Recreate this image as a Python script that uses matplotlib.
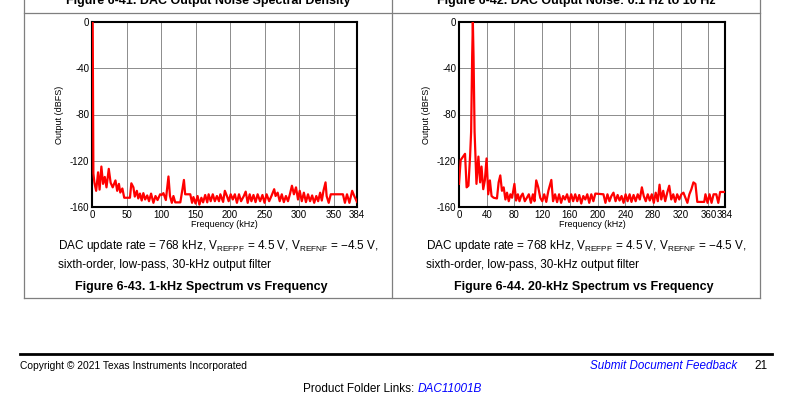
import matplotlib
matplotlib.use("Agg")
import matplotlib.pyplot as plt
from matplotlib.lines import Line2D

plt.rcParams['font.family'] = ['Liberation Sans', 'DejaVu Sans']
plt.rcParams['mathtext.fontset'] = 'custom'
plt.rcParams['mathtext.rm'] = 'Liberation Sans'
plt.rcParams['axes.unicode_minus'] = False

# ---------------- data ----------------
freq_1k = [0, 0.5, 1, 1.5, 2, 3.5, 6, 8.8, 11, 13.6, 16, 18.5, 21, 24.3, 27, 30, 34, 36.5, 39, 41,
           44, 46.7, 55, 57, 60, 62, 65, 67, 69.5, 72, 74.4, 77, 80, 82.6, 85.6, 89, 92, 95, 98.7,
           101, 103.5, 107, 110.8, 113, 115.7, 118, 120.6, 128, 133.2, 135, 142.4, 145, 147, 150,
           153, 155.6, 158.5, 161, 164, 167, 169, 172, 175, 178, 181, 184, 186, 190, 192.5, 195.5,
           198, 201, 204, 207, 210, 213, 216, 220, 222.7, 225.6, 228.5, 231, 234, 237, 240, 243.6,
           247, 250, 253, 256.7, 260, 264, 266, 269, 272, 275, 278, 281, 284, 287, 289.7, 292.6,
           295.6, 298.5, 301, 304, 307, 310, 313, 316, 319, 322, 325, 327.7, 330.6, 333, 335.4,
           338.4, 340, 343, 346, 363.6, 366.5, 369.5, 373, 377, 380, 384]
out_1k = [-1, 0, -2, -60, -131, -139, -146, -130, -145, -125, -140, -134, -143, -127, -139, -143,
          -137, -146, -140, -147.5, -144, -152, -152, -139.5, -143, -151, -146, -152.6, -148.4,
          -154.4, -148, -153.5, -150, -155, -148.4, -156.4, -150.5, -154, -149, -149.6, -148,
          -154, -133.6, -150.5, -156.4, -150.5, -156, -156, -136.6, -149, -149, -156.4, -151.4,
          -157, -150.5, -158, -152, -156, -149.6, -156, -149, -155, -149, -155, -150.5, -155,
          -149, -155.6, -146, -150.5, -155, -149, -153.5, -149, -156.4, -149, -155, -150.5,
          -146.7, -156.4, -149, -155, -149.6, -155.8, -149, -155, -149.6, -156.4, -149, -155,
          -150.5, -144.6, -150.5, -147.6, -155, -149, -155.8, -150.5, -155, -148.4, -141.6, -149,
          -143, -153.5, -146, -155, -147.6, -155.8, -149, -155, -150, -156.4, -150.5, -155,
          -147.6, -154.4, -146, -138.7, -150.5, -156.4, -149, -149, -156.4, -149, -156.4, -146,
          -150.5, -155.6]

freq_20k = [0, 2.4, 5.8, 8.7, 11, 13.6, 16, 17.5, 19, 20, 21, 22.5, 25.2, 28, 30.5, 32.5, 35,
            37.3, 39.8, 42.2, 44.6, 47, 50, 54.8, 57.2, 59.6, 62, 64.5, 67, 69.3, 71.8, 74.2,
            76.6, 80, 82.4, 85, 87.3, 89.7, 92, 95, 98, 100.8, 103.8, 106.7, 109, 111.5, 114.4,
            117.3, 120.2, 123, 126, 129, 133.3, 135.8, 138.7, 141.6, 144.5, 147.4, 150.3, 153,
            156, 159, 162, 164.8, 167.8, 170.7, 173.6, 176.5, 179.4, 182.3, 185.2, 188, 191, 194,
            196.8, 208.5, 211.4, 214.3, 217.2, 220, 223, 226, 229, 231.8, 234.7, 237.6, 240.5,
            243.4, 246.3, 249, 252, 255, 258, 261, 264, 266.7, 269.6, 272.5, 275.4, 278.3, 281.2,
            284, 287, 289.5, 292, 294.8, 297.7, 300.6, 303.5, 306.4, 309.3, 312.2, 315, 318, 321,
            324, 326.8, 329.7, 332.6, 335.5, 338.4, 341.3, 344, 354, 355.8, 358.8, 361.7, 364.6,
            367.5, 371.4, 374.3, 377, 384]
out_20k = [-140, -119.4, -116.4, -114, -143, -141.6, -116, -95, -30, 0, -30, -95, -140, -116.4,
           -138.7, -125, -144.6, -137, -118, -149, -137, -150.5, -152, -152.6, -138.7, -132.7,
           -146, -143, -153.5, -147.6, -155, -149, -152, -140, -154.4, -149, -155, -150.5,
           -148.4, -155, -152, -149, -156.4, -149, -155, -137, -143, -152, -155, -149, -155.6,
           -146, -136.6, -155, -149, -155.8, -149, -156.4, -150.5, -153.5, -149, -155.6, -149,
           -155, -149, -155, -149.6, -157, -150.5, -153.5, -149, -156.4, -149, -155, -148.4,
           -149, -156.4, -149, -155, -150.5, -147.6, -155, -149.6, -154.4, -150.5, -156.4, -149,
           -155, -149, -155.6, -149.6, -155, -149, -153.5, -143, -150.5, -155, -149, -154.4,
           -149, -156.4, -147.6, -155, -140.7, -153.5, -146, -155, -147.6, -141.6, -153.5, -149,
           -155.6, -149, -153.5, -149, -147.6, -152, -156.4, -149, -144.6, -138.7, -140, -155.6,
           -155.6, -149, -156.4, -149, -156.4, -149, -149, -156.4, -147, -147]

xticks_1k = [0, 50, 100, 150, 200, 250, 300, 350, 384]
xticks_20k = [0, 40, 80, 120, 160, 200, 240, 280, 320, 360, 384]
xticklabels_20k = ['0', '40', '80', '120', '160', '200', '240', '280', '320', '360', '384']
yticks = [-160, -120, -80, -40, 0]

caption = (r'DAC update rate = 768 kHz, V$_\mathregular{REFPF}$ = 4.5 V, '
           r'V$_\mathregular{REFNF}$ = −4.5 V,')
caption2 = 'sixth-order, low-pass, 30-kHz output filter'

# ---------------- figure ----------------
W, H = 790, 408
fig = plt.figure(figsize=(W / 100, H / 100), dpi=100)

def fx(px):
    return px / W

def fy(py):
    return 1 - py / H

def hline(x0, x1, y, lw, color):
    fig.add_artist(Line2D([fx(x0), fx(x1)], [fy(y), fy(y)], lw=lw, color=color,
                          transform=fig.transFigure))

def vline(x, y0, y1, lw, color):
    fig.add_artist(Line2D([fx(x), fx(x)], [fy(y0), fy(y1)], lw=lw, color=color,
                          transform=fig.transFigure))

# table frame
tcol = '#7f7f7f'
hline(24, 760, 12.5, 0.9, tcol)
hline(24, 760, 298, 0.9, tcol)
vline(24, 0, 298, 0.9, tcol)
vline(392, 0, 298, 0.9, tcol)
vline(760, 0, 298, 0.9, tcol)

# clipped titles at top (cut off in the reference as well)
fig.text(fx(208), fy(4), 'Figure 6-41. DAC Output Noise Spectral Density', ha='center',
         va='baseline', fontsize=9, fontweight='bold')
fig.text(fx(576), fy(4), 'Figure 6-42. DAC Output Noise: 0.1 Hz to 10 Hz', ha='center',
         va='baseline', fontsize=9, fontweight='bold')


def make_axes(left_px, right_px, x, y, xticks, xticklabels):
    ax = fig.add_axes([fx(left_px), fy(207), (right_px - left_px) / W, (207 - 22) / H])
    ax.plot(x, y, color='#ff0000', lw=1.6, zorder=3)
    ax.set_xlim(0, 384)
    ax.set_ylim(-160, 0)
    ax.set_xticks(xticks)
    ax.set_xticklabels(xticklabels)
    ax.set_yticks(yticks)
    ax.grid(True, color='#8c8c8c', lw=0.7)
    ax.tick_params(length=0, labelsize=7, pad=2)
    for s in ax.spines.values():
        s.set_linewidth(1.5)
        s.set_color('black')
    ax.set_xlabel('Frequency (kHz)', fontsize=6.5, labelpad=0)
    ax.set_ylabel('Output (dBFS)', fontsize=6.5, labelpad=4)
    return ax


make_axes(92, 357, freq_1k, out_1k, xticks_1k, [str(t) for t in xticks_1k])
make_axes(459, 725, freq_20k, out_20k, xticks_20k, xticklabels_20k)

# captions
for x0, cx, title in [(58, 201, 'Figure 6-43. 1-kHz Spectrum vs Frequency'),
                      (426, 584, 'Figure 6-44. 20-kHz Spectrum vs Frequency')]:
    fig.text(fx(x0), fy(246), caption, ha='left', va='center', fontsize=8.5)
    fig.text(fx(x0), fy(265), caption2, ha='left', va='center', fontsize=8.5)
    fig.text(fx(cx), fy(287), title, ha='center', va='center', fontsize=9, fontweight='bold')

# footer
hline(20, 772, 354, 2.0, 'black')
fig.text(fx(20), fy(366), 'Copyright © 2021 Texas Instruments Incorporated', ha='left',
         va='center', fontsize=7.4)
fig.text(fx(737), fy(366), 'Submit Document Feedback', ha='right', va='center', fontsize=8.4,
         style='italic', color='#0000ff')
fig.text(fx(768), fy(366), '21', ha='right', va='center', fontsize=8.5)
t1 = fig.text(fx(303), fy(389), 'Product Folder Links: ', ha='left', va='center', fontsize=8.5)
fig.canvas.draw()
bb = t1.get_window_extent()
fig.text(bb.x1 / W, fy(389), 'DAC11001B', ha='left', va='center', fontsize=8.5,
         style='italic', color='#0000ff')

fig.savefig('out.png', dpi=100)
